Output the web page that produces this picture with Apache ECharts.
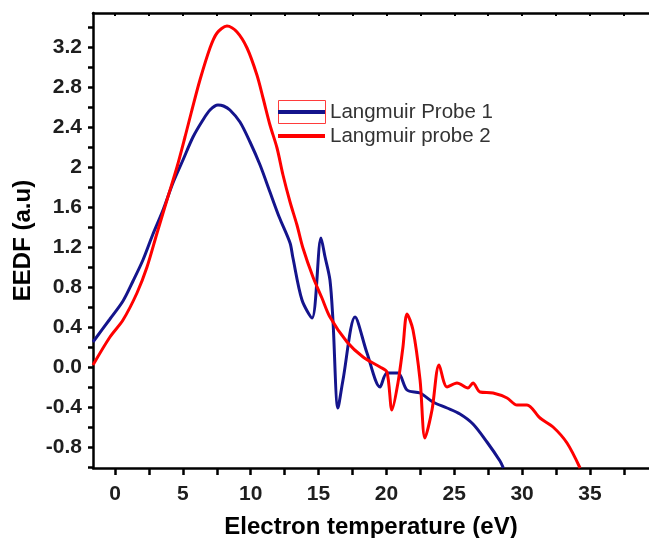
<!DOCTYPE html>
<html>
<head>
<meta charset="utf-8">
<script src="https://cdn.jsdelivr.net/npm/echarts@6/dist/echarts.min.js"></script>
<style>
  html, body { margin: 0; padding: 0; background: #ffffff; }
  #chart { width: 649px; height: 538px; }
</style>
</head>
<body>
<div id="chart"></div>
<script>
// Electron energy distribution measured by two Langmuir probes
const probe1X = [-1.62, -0.37, 0.59, 1.33, 2.06, 2.80, 3.54, 4.27, 5.01, 5.75, 6.48, 7.0, 7.59, 8.0, 8.47, 9.21, 9.95, 10.69, 11.42, 12.1, 12.9, 13.1, 13.78, 14.52, 15.18, 15.48, 15.84, 16.06, 16.43, 16.8, 17.69, 18.57, 19.53, 20.04, 20.85, 21.52, 22.48, 23.43, 24.47, 25.42, 26.38, 27.41, 28.37, 28.62];
const probe1Y = [0.25, 0.48, 0.66, 0.86, 1.07, 1.33, 1.57, 1.84, 2.07, 2.30, 2.47, 2.57, 2.62, 2.61, 2.57, 2.45, 2.25, 2.02, 1.75, 1.50, 1.24, 1.10, 0.67, 0.49, 1.29, 1.10, 0.87, 0.47, -0.41, -0.13, 0.50, 0.14, -0.20, -0.06, -0.06, -0.23, -0.26, -0.35, -0.41, -0.47, -0.57, -0.75, -0.94, -1.01];

const probe2X = [-1.62, -0.37, 0.59, 1.62, 2.36, 3.10, 3.83, 4.57, 5.16, 5.67, 6.26, 7.0, 7.52, 8.25, 8.99, 9.73, 10.46, 10.91, 11.42, 11.94, 12.38, 12.9, 13.41, 13.85, 14.59, 15.25, 15.84, 17.1, 18.28, 19.53, 20.04, 20.41, 20.85, 21.22, 21.52, 21.96, 22.48, 22.84, 23.36, 23.88, 24.47, 25.2, 26.01, 26.38, 26.9, 27.86, 28.89, 29.62, 30.36, 31.32, 32.28, 33.31, 34.27];
const probe2Y = [0.02, 0.30, 0.47, 0.74, 1.00, 1.34, 1.67, 2.00, 2.30, 2.57, 2.87, 3.19, 3.34, 3.41, 3.35, 3.19, 2.92, 2.69, 2.42, 2.19, 1.92, 1.65, 1.42, 1.19, 0.90, 0.69, 0.50, 0.25, 0.10, 0.00, -0.05, -0.43, -0.16, 0.20, 0.53, 0.37, -0.13, -0.71, -0.43, 0.02, -0.20, -0.16, -0.21, -0.16, -0.25, -0.26, -0.31, -0.38, -0.38, -0.51, -0.60, -0.76, -1.01];

const seriesNames = ['Langmuir Probe 1', 'Langmuir probe 2'];

// Axis ticks and labels
const xTickValues = [0, 2.5, 5, 7.5, 10, 12.5, 15, 17.5, 20, 22.5, 25, 27.5, 30, 32.5, 35, 37.5];
const xLabelValues = [0, 5, 10, 15, 20, 25, 30, 35];
const yTickValues = [-1.0, -0.8, -0.6, -0.4, -0.2, 0, 0.2, 0.4, 0.6, 0.8, 1.0, 1.2, 1.4, 1.6, 1.8, 2.0, 2.2, 2.4, 2.6, 2.8, 3.0, 3.2, 3.4];
const yLabelValues = [-0.8, -0.4, 0, 0.4, 0.8, 1.2, 1.6, 2, 2.4, 2.8, 3.2];
const yLabelTexts = ['-0.8', '-0.4', '0.0', '0.4', '0.8', '1.2', '1.6', '2', '2.4', '2.8', '3.2'];

const zip = (xs, ys) => xs.map((x, i) => [x, ys[i]]);

const FONT = 'Liberation Sans';
const axisColor = '#000000';
const labelStyle = { fontFamily: FONT, fontWeight: 'bold', fontSize: 21, color: '#1e1e1e' };
const titleStyle = { fontFamily: FONT, fontWeight: 'bold', fontSize: 24, color: '#000000' };

const chart = echarts.init(document.getElementById('chart'), null, { renderer: 'canvas' });

chart.setOption({
  animation: false,
  backgroundColor: '#ffffff',
  grid: { left: 93, top: 13, right: 0, bottom: 70, containLabel: false, outerBoundsMode: 'none' },
  xAxis: [
    {
      type: 'value',
      position: 'bottom',
      min: -1.62,
      max: 39.35,
      axisLine: { show: true, onZero: false, lineStyle: { color: axisColor, width: 2.5 } },
      axisTick: { show: true, inside: false, length: 7, customValues: xTickValues, lineStyle: { color: axisColor, width: 2.5 } },
      axisLabel: Object.assign({ customValues: xLabelValues, margin: 16 }, labelStyle),
      splitLine: { show: false },
      name: 'Electron temperature (eV)',
      nameLocation: 'middle',
      nameGap: 47,
      nameTextStyle: titleStyle
    },
    {
      type: 'value',
      position: 'top',
      min: -1.62,
      max: 39.35,
      axisLine: { show: true, onZero: false, lineStyle: { color: axisColor, width: 2.5 } },
      axisTick: { show: true, inside: true, length: 3, customValues: xTickValues, lineStyle: { color: axisColor, width: 2 } },
      axisLabel: { show: false },
      splitLine: { show: false }
    }
  ],
  yAxis: {
    type: 'value',
    min: -1.01,
    max: 3.54,
    axisLine: { show: true, onZero: false, lineStyle: { color: axisColor, width: 2.5 } },
    axisTick: { show: true, inside: false, length: 5, customValues: yTickValues, lineStyle: { color: axisColor, width: 2.5 } },
    axisLabel: Object.assign({
      customValues: yLabelValues,
      margin: 11,
      formatter: (v) => {
        const i = yLabelValues.findIndex((t) => Math.abs(t - v) < 1e-6);
        return i >= 0 ? yLabelTexts[i] : '';
      }
    }, labelStyle),
    splitLine: { show: false },
    name: 'EEDF (a.u)',
    nameLocation: 'middle',
    nameRotate: 90,
    nameGap: 58,
    nameTextStyle: titleStyle
  },
  legend: [
    {
      // selection frame drawn round the first legend entry
      id: 'frame',
      data: [{ name: seriesNames[0], icon: 'rect', itemStyle: { color: 'rgba(0,0,0,0)', borderColor: '#ff3b3b', borderWidth: 1 } }],
      left: 278,
      top: 100,
      padding: 0,
      itemWidth: 47,
      itemHeight: 23,
      selectedMode: false,
      formatter: () => '',
      textStyle: { fontSize: 1 },
      z: 3
    },
    {
      id: 'entries',
      data: seriesNames,
      orient: 'vertical',
      left: 278,
      top: 101,
      padding: 0,
      icon: 'rect',
      itemWidth: 47,
      itemHeight: 4,
      itemGap: 2,
      selectedMode: false,
      textStyle: { fontFamily: FONT, fontSize: 20.5, lineHeight: 22, color: '#333333' },
      z: 4
    }
  ],
  series: [
    {
      name: seriesNames[0],
      type: 'line',
      data: zip(probe1X, probe1Y),
      showSymbol: false,
      symbol: 'none',
      smooth: 0.3,
      color: '#14148c',
      lineStyle: { color: '#14148c', width: 3 },
      itemStyle: { color: '#14148c' },
      z: 2
    },
    {
      name: seriesNames[1],
      type: 'line',
      data: zip(probe2X, probe2Y),
      showSymbol: false,
      symbol: 'none',
      smooth: 0.3,
      color: '#ff0000',
      lineStyle: { color: '#ff0000', width: 3 },
      itemStyle: { color: '#ff0000' },
      z: 3
    }
  ]
});
</script>
</body>
</html>
